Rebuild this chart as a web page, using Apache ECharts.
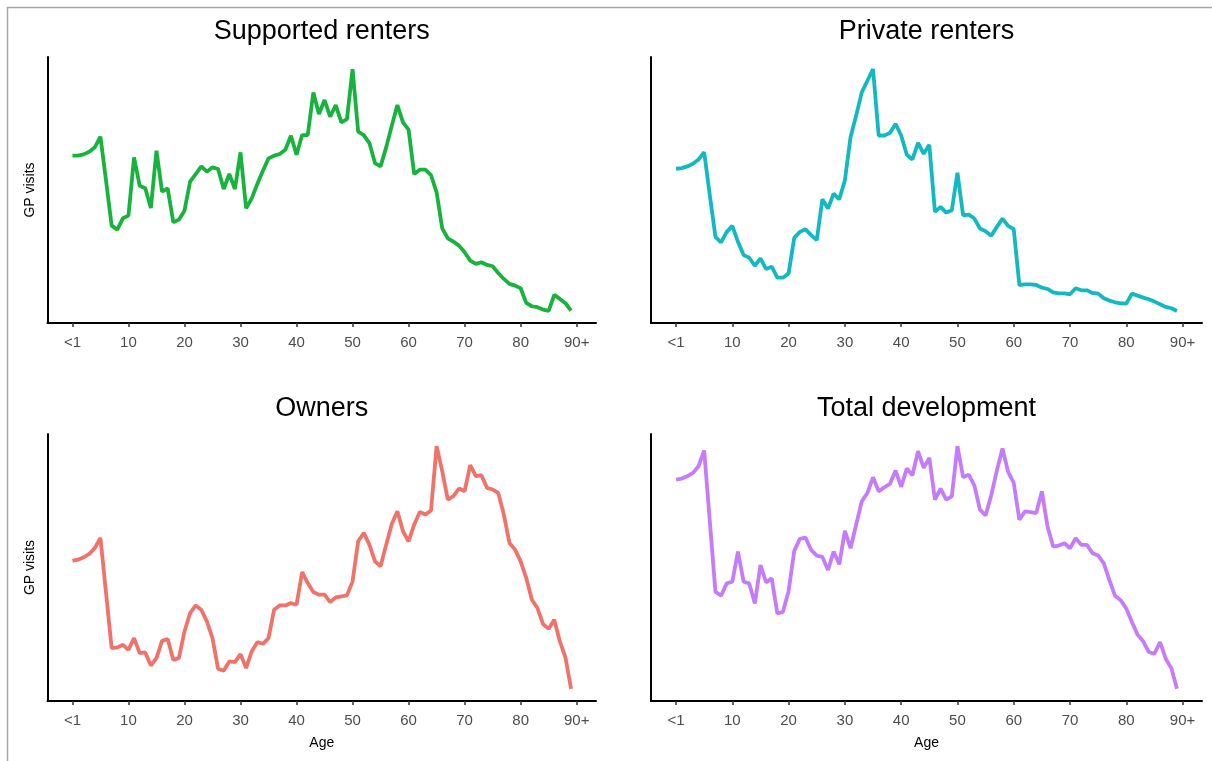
<!DOCTYPE html>
<html>
<head>
<meta charset="utf-8">
<script src="https://cdn.jsdelivr.net/npm/echarts@6/dist/echarts.min.js"></script>
<style>
  html, body { margin: 0; padding: 0; background: #fff; }
  #chartBox { width: 1212px; height: 761px; }
</style>
</head>
<body>
<div id="chartBox"></div>
<script>
// GP visits by age, four tenure groups
var ages = []
for (let a = 0; a <= 89; a++) {
  ages.push(a)
}

var tickValues = [0, 10, 20, 30, 40, 50, 60, 70, 80, 90]
var tickLabels = ['<1', '10', '20', '30', '40', '50', '60', '70', '80', '90+']

var panelTitles = ['Supported renters', 'Private renters', 'Owners', 'Total development']
var panelColors = ['#17b33d', '#13b9c1', '#f0736b', '#c47cfb']

var supportedRenters = [7.00, 7.00, 7.04, 7.12, 7.25, 7.57, 6.25, 4.90, 4.78, 5.12,
  5.20, 6.95, 6.10, 6.02, 5.43, 7.15, 5.92, 6.02, 5.00, 5.08,
  5.35, 6.22, 6.45, 6.68, 6.52, 6.65, 6.60, 6.00, 6.45, 6.00,
  7.10, 5.42, 5.72, 6.15, 6.55, 6.92, 7.00, 7.05, 7.18, 7.60,
  7.03, 7.62, 7.62, 8.90, 8.25, 8.67, 8.17, 8.52, 8.00, 8.10,
  9.60, 7.72, 7.62, 7.38, 6.78, 6.68, 7.25, 7.90, 8.52, 8.00,
  7.78, 6.45, 6.58, 6.58, 6.42, 5.90, 4.82, 4.52, 4.42, 4.30,
  4.10, 3.85, 3.75, 3.80, 3.72, 3.68, 3.48, 3.30, 3.15, 3.10,
  3.02, 2.58, 2.48, 2.45, 2.38, 2.34, 2.82, 2.70, 2.57, 2.35]

var privateRenters = [6.60, 6.62, 6.67, 6.75, 6.88, 7.10, 5.80, 4.55, 4.38, 4.70,
  4.88, 4.40, 4.00, 3.92, 3.68, 3.90, 3.58, 3.65, 3.32, 3.32,
  3.45, 4.52, 4.70, 4.78, 4.60, 4.45, 5.68, 5.40, 5.85, 5.68,
  6.25, 7.55, 8.20, 8.90, 9.25, 9.60, 7.60, 7.60, 7.68, 7.95,
  7.60, 7.02, 6.88, 7.38, 7.05, 7.32, 5.30, 5.45, 5.28, 5.35,
  6.48, 5.20, 5.22, 5.10, 4.80, 4.72, 4.58, 4.85, 5.10, 4.88,
  4.78, 3.10, 3.12, 3.12, 3.10, 3.02, 2.98, 2.88, 2.85, 2.85,
  2.82, 3.00, 2.94, 2.94, 2.86, 2.84, 2.70, 2.63, 2.58, 2.55,
  2.54, 2.84, 2.78, 2.72, 2.67, 2.60, 2.52, 2.44, 2.40, 2.32]

var owners = [6.12, 6.15, 6.22, 6.32, 6.50, 6.80, 5.15, 3.50, 3.52, 3.60,
  3.45, 3.80, 3.35, 3.37, 2.98, 3.20, 3.72, 3.77, 3.15, 3.20,
  4.00, 4.55, 4.78, 4.65, 4.30, 3.80, 2.88, 2.82, 3.10, 3.08,
  3.32, 2.90, 3.40, 3.68, 3.63, 3.80, 4.65, 4.78, 4.78, 4.85,
  4.80, 5.78, 5.45, 5.18, 5.10, 5.10, 4.88, 5.02, 5.05, 5.08,
  5.50, 6.70, 6.95, 6.60, 6.10, 5.95, 6.60, 7.22, 7.60, 7.00,
  6.70, 7.20, 7.58, 7.50, 7.62, 9.55, 8.80, 7.95, 8.05, 8.28,
  8.20, 8.98, 8.65, 8.68, 8.30, 8.25, 8.15, 7.50, 6.65, 6.45,
  6.10, 5.60, 4.95, 4.70, 4.22, 4.08, 4.35, 3.70, 3.22, 2.28]

var totalDevelopment = [8.55, 8.58, 8.65, 8.75, 8.95, 9.42, 7.30, 5.20, 5.08, 5.45,
  5.50, 6.40, 5.50, 5.45, 4.85, 6.00, 5.48, 5.60, 4.55, 4.60,
  5.22, 6.42, 6.78, 6.82, 6.45, 6.28, 6.24, 5.85, 6.40, 6.02,
  7.02, 6.50, 7.20, 7.90, 8.15, 8.62, 8.20, 8.32, 8.42, 8.82,
  8.33, 8.88, 8.68, 9.40, 8.90, 9.20, 7.95, 8.28, 7.95, 8.05,
  9.55, 8.62, 8.70, 8.38, 7.65, 7.48, 8.08, 8.82, 9.48, 8.78,
  8.45, 7.35, 7.60, 7.58, 7.55, 8.20, 7.15, 6.55, 6.58, 6.65,
  6.50, 6.80, 6.60, 6.60, 6.35, 6.28, 6.05, 5.55, 5.08, 4.95,
  4.70, 4.30, 3.92, 3.72, 3.40, 3.35, 3.70, 3.20, 2.92, 2.30]

var panelData = [supportedRenters, privateRenters, owners, totalDevelopment]

// panel boxes (left, top, width, height)
var grids = [
  { left: 47.5, top: 57, width: 548.5, height: 266 },
  { left: 651, top: 57, width: 551, height: 266 },
  { left: 47.5, top: 434, width: 548.5, height: 267 },
  { left: 651, top: 434, width: 551, height: 267 }
]

var fontName = "'Liberation Sans', Arial, sans-serif"

var getOption = function () {
  var titles = [], xAxes = [], yAxes = [], series = []
  panelTitles.forEach((t, i) => {
    var g = grids[i]
    titles.push({
      text: t,
      left: g.left + g.width / 2,
      top: g.top - 39,
      textAlign: 'center',
      padding: 0,
      textStyle: { fontSize: 27, fontWeight: 'normal', color: '#000', fontFamily: fontName }
    })
    xAxes.push({
      type: 'value',
      gridIndex: i,
      min: -4.45,
      max: 93.45,
      name: i >= 2 ? 'Age' : '',
      nameLocation: 'middle',
      nameGap: 35,
      nameTextStyle: { fontSize: 14, color: '#000', fontFamily: fontName },
      axisLine: { show: true, onZero: false, lineStyle: { color: '#000', width: 2 } },
      axisTick: { show: true, customValues: tickValues, length: 4, lineStyle: { color: '#333', width: 1.5 } },
      axisLabel: {
        customValues: tickValues,
        color: '#4d4d4d',
        fontSize: 15,
        margin: 12,
        fontFamily: fontName,
        formatter: function (v) {
          return tickLabels[tickValues.indexOf(v)]
        }
      },
      splitLine: { show: false }
    })
    yAxes.push({
      type: 'value',
      gridIndex: i,
      min: function (v) { return v.min - 0.05 * (v.max - v.min) },
      max: function (v) { return v.max + 0.05 * (v.max - v.min) },
      name: (i % 2 === 0) ? 'GP visits' : '',
      nameLocation: 'middle',
      nameGap: 10,
      nameTextStyle: { fontSize: 14, color: '#000', fontFamily: fontName },
      axisLine: { show: true, onZero: false, lineStyle: { color: '#000', width: 2 } },
      axisTick: { show: false },
      axisLabel: { show: false },
      splitLine: { show: false }
    })
    series.push({
      name: t,
      type: 'line',
      xAxisIndex: i,
      yAxisIndex: i,
      showSymbol: false,
      symbol: 'none',
      lineStyle: { color: panelColors[i], width: 3.8 },
      data: ages.map((a, k) => [a, panelData[i][k]])
    })
  })
  return {
    animation: false,
    backgroundColor: '#fff',
    textStyle: { fontFamily: fontName },
    title: titles,
    grid: grids,
    xAxis: xAxes,
    yAxis: yAxes,
    series: series,
    graphic: [
      {
        type: 'rect',
        shape: { x: 7.5, y: 7.5, width: 1230, height: 780 },
        style: { fill: null, stroke: '#a6a6a6', lineWidth: 1.5 },
        silent: true
      }
    ]
  }
}

var chartDom = document.getElementById('chartBox')
let chart = echarts.init(chartDom)
chart.setOption(getOption())
</script>
</body>
</html>
